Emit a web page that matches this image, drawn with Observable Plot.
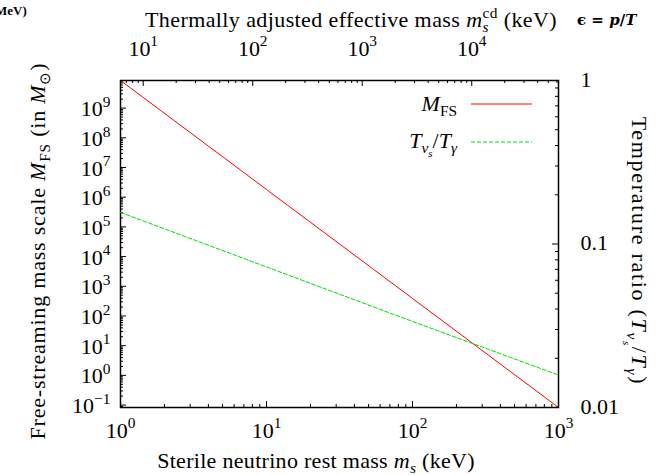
<!DOCTYPE html>
<html><head><meta charset="utf-8">
<script src="https://cdn.jsdelivr.net/npm/d3@7"></script>
<script src="https://cdn.jsdelivr.net/npm/@observablehq/plot@0.6"></script>
<style>
body{margin:0;background:#fff;}
#chart{position:relative;width:657px;height:475px;overflow:hidden;background:#fff;}
#chart svg{position:absolute;left:0;top:0;overflow:visible;}
</style></head><body><div id="chart"></div>
<script>
// ---- data ----
const massKeV = [1, 10, 100, 1000];                 // sterile neutrino rest mass m_s (keV)
const mfsSolar = [8.5e9, 1.82e6, 3.9e2, 0.083];      // free-streaming mass scale (M_sun)
const tempRatio = [0.156, 0.0724, 0.0336, 0.0158];   // T_nu_s / T_gamma
const xDomain = [1, 1000];
const yDomain = [0.083, 8.5e9];
const y2Domain = [0.01, 1];
const x2Domain = [6.2, 6.2e4];                       // thermally adjusted effective mass (keV)
const bottomTicks = [1, 10, 100, 1000];
const bottomTickLabels = ["10^{0}", "10^{1}", "10^{2}", "10^{3}"];
const leftTicks = [0.1, 1, 10, 1e2, 1e3, 1e4, 1e5, 1e6, 1e7, 1e8, 1e9];
const leftTickLabels = ["10^{−1}", "10^{0}", "10^{1}", "10^{2}", "10^{3}", "10^{4}", "10^{5}", "10^{6}", "10^{7}", "10^{8}", "10^{9}"];
const rightTicks = [0.01, 0.1, 1];
const rightTickLabels = ["0.01", "0.1", "1"];
const topTicks = [10, 100, 1000, 10000];
const topTickLabels = ["10^{1}", "10^{2}", "10^{3}", "10^{4}"];
const seriesNames = ["$M$_{FS}", "$T$_{$ν$_{$s$}}/$T$_{$γ$}"];
const seriesColors = ["#ff0000", "#00e000"];

// ---- layout ----
const W = 657, H = 475, mL = 120, mR = 99, mT = 80, mB = 68;
const fW = W - mL - mR, fH = H - mT - mB;
const FONT = "'Liberation Serif', 'Times New Roman', serif";
const TICK = 22;
const ns = "http://www.w3.org/2000/svg";

function minorTicks([a, b]) {
  const out = [];
  for (let k = Math.floor(Math.log10(a)); k <= Math.ceil(Math.log10(b)); k++)
    for (let j = 2; j <= 9; j++) { const v = j * 10 ** k; if (v >= a && v <= b) out.push(v); }
  return out;
}

// mini markup: $..$ italic, ^{..} superscript, _{..} subscript
function parseRich(str, size, shift, italic, out) {
  let buf = "", lastScript = null, i = 0;
  const flush = () => { if (buf) { out.push({t: buf, size, shift, it: italic}); buf = ""; lastScript = null; } };
  while (i < str.length) {
    const c = str[i];
    if (c === "$") { flush(); italic = !italic; i++; continue; }
    if ((c === "^" || c === "_") && str[i + 1] === "{") {
      flush();
      let depth = 0, j = i + 1;
      for (; j < str.length; j++) { if (str[j] === "{") depth++; else if (str[j] === "}") { depth--; if (!depth) break; } }
      const inner = str.slice(i + 2, j);
      const start = out.length;
      const sh = c === "^" ? shift - 0.42 * size : shift + 0.24 * size;
      parseRich(inner, size * 0.7, sh, italic, out);
      const idx = []; for (let k = start; k < out.length; k++) idx.push(k);
      if (lastScript && idx.length) out[start].back = lastScript;
      lastScript = idx;
      i = j + 1; continue;
    }
    buf += c; i++;
  }
  flush();
  return out;
}
function richify(textEl, markup, baseSize) {
  const segs = parseRich(markup, baseSize, 0, false, []);
  textEl.textContent = "";
  let cur = 0; const tspans = [];
  segs.forEach(s => {
    const ts = document.createElementNS(ns, "tspan");
    ts.textContent = s.t;
    ts.setAttribute("font-size", s.size);
    if (s.it) ts.setAttribute("font-style", "italic");
    const dy = s.shift - cur; if (dy) ts.setAttribute("dy", dy); cur = s.shift;
    if (s.back) { const w = d3.sum(s.back, b => tspans[b].getComputedTextLength()); ts.setAttribute("dx", -w); }
    textEl.appendChild(ts); tspans.push(ts);
  });
}

const base = {width: W, height: H, marginLeft: mL, marginRight: mR, marginTop: mT, marginBottom: mB};
const styleOf = bg => ({fontFamily: FONT, fontSize: TICK + "px", background: bg, color: "#000"});

// main plot: bottom x axis, left y axis, M_FS
const mainPlot = Plot.plot({
  ...base,
  style: styleOf("white"),
  x: {type: "log", domain: xDomain, axis: null},
  y: {type: "log", domain: yDomain, axis: null},
  marks: [
    Plot.tickX(minorTicks(xDomain), {x: d => d, insetTop: fH - 3, stroke: "#000"}),
    Plot.tickX(bottomTicks, {x: d => d, insetTop: fH - 6, stroke: "#000"}),
    Plot.tickY(minorTicks(yDomain), {y: d => d, insetRight: fW - 3, stroke: "#000"}),
    Plot.tickY(leftTicks, {y: d => d, insetRight: fW - 6, stroke: "#000"}),
    Plot.line(massKeV.map((m, i) => ({m, v: mfsSolar[i]})), {x: "m", y: "v", stroke: seriesColors[0], strokeWidth: 1}),
    Plot.frame({stroke: "#000", strokeWidth: 1.5}),
    Plot.text(bottomTicks, {x: d => d, text: (d, i) => bottomTickLabels[i], frameAnchor: "bottom", lineAnchor: "bottom", dy: 30, textAnchor: "middle"}),
    Plot.text(leftTicks, {y: d => d, text: (d, i) => leftTickLabels[i], frameAnchor: "left", lineAnchor: "bottom", dy: 8, dx: -10, textAnchor: "end"})
  ]
});

// overlay: right y axis (temperature ratio) and its line
const rightPlot = Plot.plot({
  ...base,
  style: styleOf("transparent"),
  x: {type: "log", domain: xDomain, axis: null},
  y: {type: "log", domain: y2Domain, axis: null},
  marks: [
    Plot.tickY(minorTicks(y2Domain), {y: d => d, insetLeft: fW - 3, stroke: "#000"}),
    Plot.tickY(rightTicks, {y: d => d, insetLeft: fW - 6, stroke: "#000"}),
    Plot.line(massKeV.map((m, i) => ({m, v: tempRatio[i]})), {x: "m", y: "v", stroke: seriesColors[1], strokeWidth: 1, strokeDasharray: "4,2"}),
    Plot.text(rightTicks, {y: d => d, text: (d, i) => rightTickLabels[i], frameAnchor: "right", lineAnchor: "bottom", dy: 6, dx: 22, textAnchor: "start"})
  ]
});

// overlay: top x axis (thermally adjusted effective mass)
const topPlot = Plot.plot({
  ...base,
  style: styleOf("transparent"),
  x: {type: "log", domain: x2Domain, axis: null},
  marks: [
    Plot.tickX(minorTicks(x2Domain), {x: d => d, insetBottom: fH - 3, stroke: "#000"}),
    Plot.tickX(topTicks, {x: d => d, insetBottom: fH - 6, stroke: "#000"}),
    Plot.text(topTicks, {x: d => d, text: (d, i) => topTickLabels[i], frameAnchor: "top", lineAnchor: "bottom", dy: -25, textAnchor: "middle"})
  ]
});

const chart = document.getElementById("chart");
chart.append(mainPlot, rightPlot, topPlot);

// superscripts in tick labels
for (const svg of [mainPlot, topPlot])
  d3.select(svg).selectAll("text").each(function () {
    if (this.textContent.includes("^{")) richify(this, this.textContent, TICK);
  });

function addText(svg, markup, {x, y, anchor = "middle", size = 22, rotate = 0, family = FONT, weight = null, spacing = null}) {
  const t = d3.select(svg).append("text")
    .attr("transform", `translate(${x},${y})` + (rotate ? ` rotate(${rotate})` : ""))
    .attr("text-anchor", anchor).attr("font-size", size).attr("fill", "#000")
    .style("font-family", family);
  if (weight) t.attr("font-weight", weight);
  if (spacing) t.attr("letter-spacing", spacing);
  richify(t.node(), markup, size);
  return t;
}

// axis titles
addText(mainPlot, "Sterile neutrino rest mass $m$_{$s$} (keV)", {x: 316, y: 468, size: 22, spacing: 0.3});
addText(mainPlot, "Thermally adjusted effective mass $m$_{$s$}^{cd} (keV)", {x: 351, y: 27, size: 22, spacing: 0.4});
addText(mainPlot, "Free-streaming mass scale $M$_{FS} (in $M$_{⊙})", {x: 45, y: 251, size: 22, rotate: -90, spacing: 0.8});
addText(mainPlot, "Temperature ratio ($T$_{$ν$_{$s$}}/$T$_{$γ$})", {x: 632, y: 251, size: 22, rotate: 90, spacing: 1.7});

// fragments of neighbouring panels
addText(mainPlot, "MeV)", {x: -5, y: 15, size: 13, anchor: "start", weight: "bold"});
addText(mainPlot, "ϵ = $p$/$T$", {x: 577, y: 25, size: 15, anchor: "start", weight: "bold", family: "'DejaVu Serif', serif"});

// legend
const lg = d3.select(mainPlot).append("g");
[[104, 111], [142, 148]].forEach(([ly, ty], i) => {
  lg.append("line").attr("x1", 471).attr("x2", 532).attr("y1", ly).attr("y2", ly)
    .attr("stroke", seriesColors[i]).attr("stroke-width", 1).attr("stroke-dasharray", i ? "4,2" : null);
  addText(mainPlot, seriesNames[i], {x: 457, y: ty, anchor: "end", size: 22});
});
</script></body></html>
